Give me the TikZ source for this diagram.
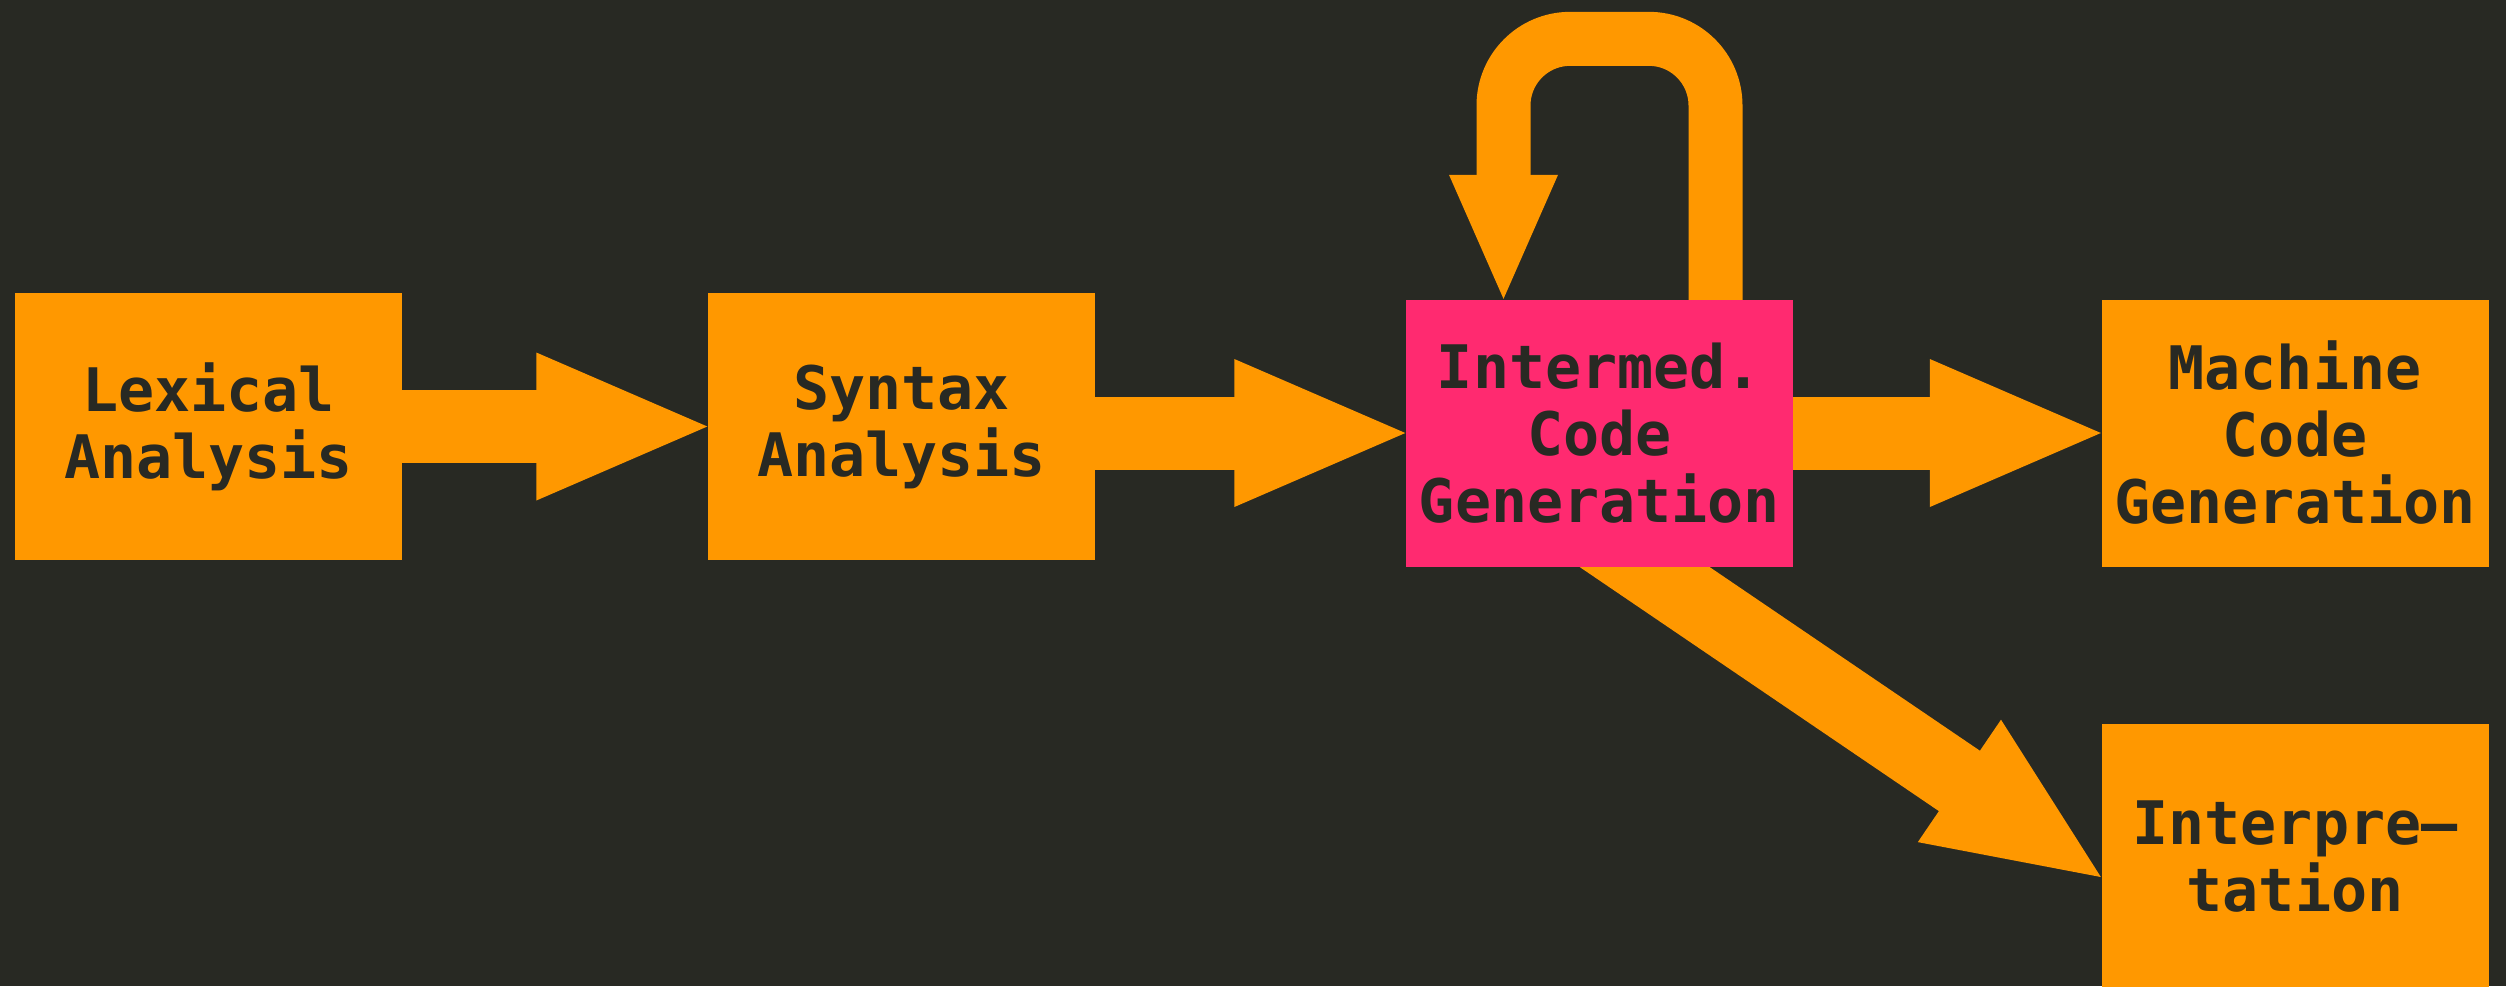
\documentclass[tikz,border=0pt]{standalone}
\usepackage{fontspec}
\setmonofont{DejaVu Sans Mono}
\usetikzlibrary{arrows.meta, calc}

\definecolor{bgdark}{HTML}{282923}
\definecolor{stageorange}{HTML}{FF9800}
\definecolor{stagepink}{HTML}{FF2A70}

\pgfdeclarelayer{bg}
\pgfdeclarelayer{links}
\pgfsetlayers{bg,links,main}

\tikzset{
  stage/.style={rectangle, fill=stageorange, minimum width=116.1pt, minimum height=80.1pt,
    inner sep=0pt, align=center, text=bgdark,
    font=\ttfamily\bfseries\fontsize{18pt}{20.1pt}\selectfont},
  bigflow/.style={stageorange, line width=21.9pt, line cap=rect,
    -{Triangle[width=44.4pt, length=51.3pt, line width=0pt]}},
  loopflow/.style={stageorange, line width=16.2pt, line cap=rect, rounded corners=20pt,
    -{Triangle[width=32.7pt, length=37.2pt, line width=0pt]}},
}

\begin{document}
\begin{tikzpicture}[x=0.3pt, y=-0.3pt]

  % --- Background ---
  \begin{pgfonlayer}{bg}
    \fill[bgdark] (0,0) rectangle (2506,986);
  \end{pgfonlayer}
  \useasboundingbox (0,0) rectangle (2506,986);

  % --- Stages ---
  \node[stage] (lex) at (208.5,426.5) {Lexical\\Analysis};
  \node[stage] (syn) at (901.5,426.5) {Syntax\\Analysis};
  \node[stage, fill=stagepink] (inter) at (1599.5,433) {Intermed.\\Code\\Generation};
  \node[stage] (mach) at (2295,433) {Machine\\Code\\Generation};
  \node[stage] (interp) at (2295,857) {Interpre–\\tation};

  % --- Flow arrows ---
  \begin{pgfonlayer}{links}
    \draw[bigflow] (lex.east) -- (syn.west);
    \draw[bigflow] (syn.east |- inter.west) -- (inter.west);
    \draw[bigflow] (inter.east) -- (mach.west);
    \draw[bigflow] ($(inter)+(-53.5,67)$) -- ([yshift=-6pt]interp.west);

    % --- Feedback loop ---
    \draw[loopflow] ([xshift=34.8pt]inter.north) -- ++(0,-260)
      -| ([xshift=-28.8pt]inter.north);
  \end{pgfonlayer}

\end{tikzpicture}
\end{document}
